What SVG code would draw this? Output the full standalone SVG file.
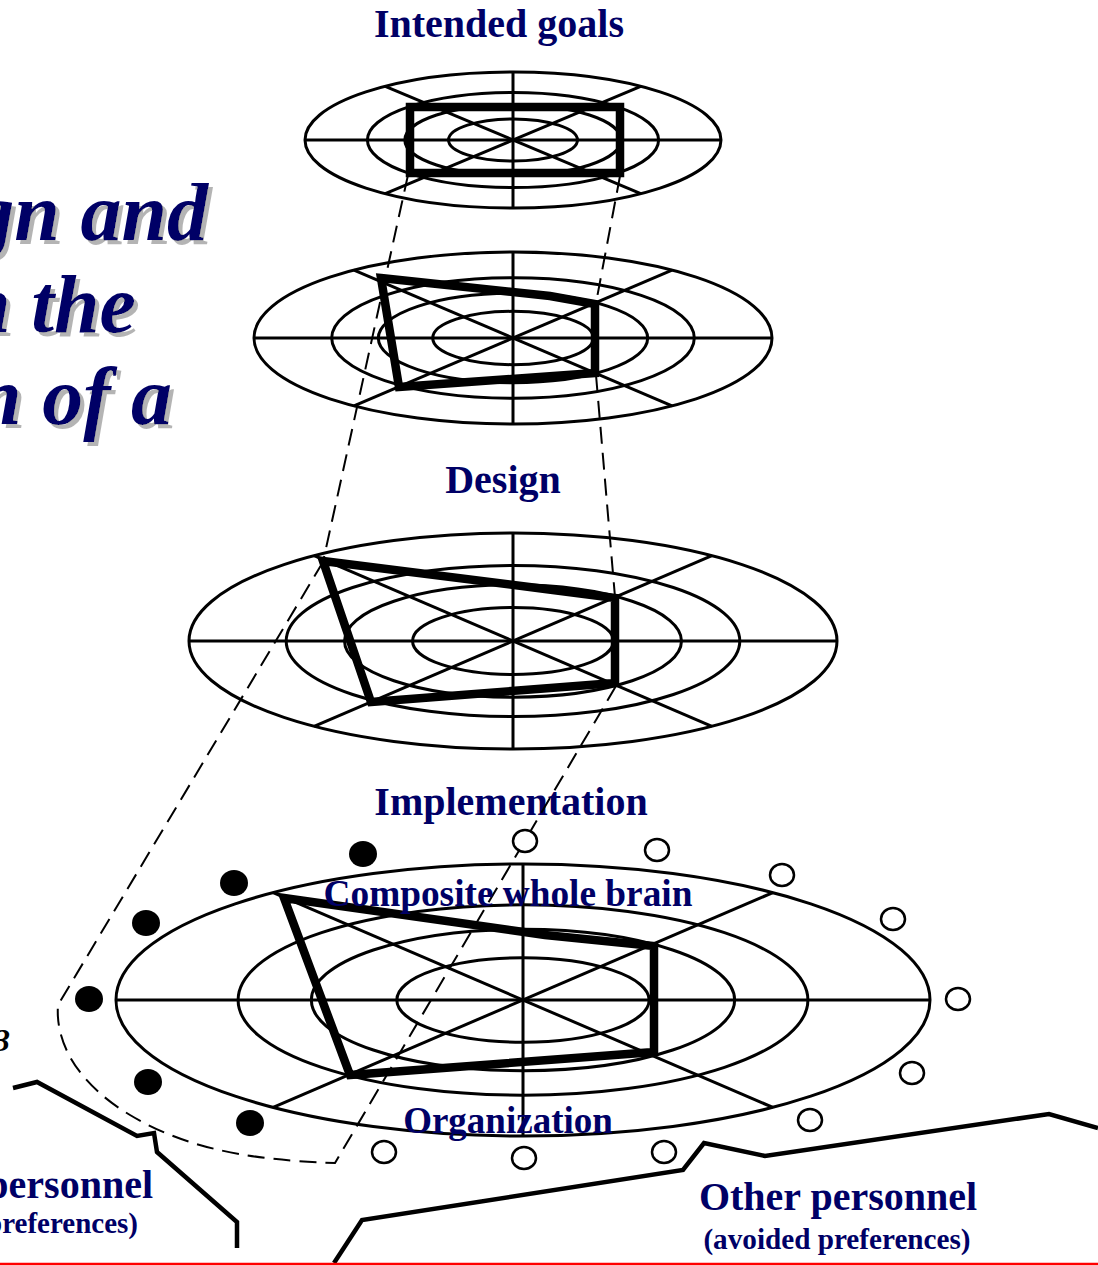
<svg xmlns="http://www.w3.org/2000/svg" xmlns:xlink="http://www.w3.org/1999/xlink" width="1098" height="1266" viewBox="0 0 1098 1266">
<style>
.ln{fill:none;stroke:#000;stroke-width:3;vector-effect:non-scaling-stroke}
.poly{fill:none;stroke:#000;stroke-width:8.5;stroke-linejoin:miter}
.dash{fill:none;stroke:#000;stroke-width:2;stroke-dasharray:17 9}
.edge{fill:none;stroke:#000;stroke-width:4.5;stroke-linejoin:miter}
.lbl{font-family:"Liberation Serif","Times New Roman",serif;font-weight:bold;fill:#000066;text-anchor:middle}
.title{font-family:"Liberation Serif","Times New Roman",serif;font-weight:bold;font-style:italic;font-size:82px;text-anchor:end;fill:#000066}
.pref{fill:#000}
.avoid{fill:#fff;stroke:#000;stroke-width:2.5}
</style>
<defs>
<filter id="shadow" x="-10%" y="-10%" width="130%" height="130%">
<feOffset in="SourceAlpha" dx="4" dy="4" result="off"/>
<feFlood flood-color="#b4b4b4"/>
<feComposite in2="off" operator="in" result="sh"/>
<feMerge><feMergeNode in="sh"/><feMergeNode in="SourceGraphic"/></feMerge>
</filter>
<g id="grid">
<ellipse class="ln" cx="0" cy="0" rx="1" ry="1"/>
<ellipse class="ln" cx="0" cy="0" rx="0.70" ry="0.70"/>
<ellipse class="ln" cx="0" cy="0" rx="0.52" ry="0.52"/>
<ellipse class="ln" cx="0" cy="0" rx="0.31" ry="0.31"/>
<line class="ln" x1="-1" y1="0" x2="1" y2="0"/>
<line class="ln" x1="0" y1="-1" x2="0" y2="1"/>
<line class="ln" x1="-0.614" y1="-0.79" x2="0.614" y2="0.79"/>
<line class="ln" x1="0.614" y1="-0.79" x2="-0.614" y2="0.79"/>
</g>
</defs>
<rect width="1098" height="1266" fill="#fff"/>

<g id="title" filter="url(#shadow)">
<text class="title" x="208" y="240">gn and</text>
<text class="title" x="136" y="332">n the</text>
<text class="title" x="172" y="424">n of a</text>
</g>
<text x="-6" y="1051" font-family="Liberation Serif, Times New Roman, serif" font-style="italic" font-weight="bold" font-size="32" fill="#000">3</text>

<g id="intended-goals">
<use xlink:href="#grid" transform="translate(513,140) scale(208,68)"/>
<polygon class="poly" points="410,107 620,107 620,173 410,173"/>
<text class="lbl" x="499" y="37" font-size="40">Intended goals</text>
</g>

<g id="design">
<use xlink:href="#grid" transform="translate(513,338) scale(259,86)"/>
<polygon class="poly" points="381,278 550,296 595,304 595,373 399,387"/>
<text class="lbl" x="503" y="493" font-size="40">Design</text>
</g>

<g id="implementation">
<use xlink:href="#grid" transform="translate(513,641) scale(324,108)"/>
<polygon class="poly" points="323,561 545,589 615,598 615,683 371,702"/>
<text class="lbl" x="511" y="815" font-size="40">Implementation</text>
</g>

<g id="organization">
<use xlink:href="#grid" transform="translate(523,1000) scale(407,136)"/>
<polygon class="poly" points="284,898 545,935 654,946 654,1052 350,1075"/>
<text class="lbl" x="508" y="1133" font-size="37">Organization</text>
</g>

<g id="connectors">
<line class="dash" x1="408" y1="175" x2="323" y2="562"/>
<line class="dash" x1="620" y1="176" x2="596" y2="303"/>
<line class="dash" x1="596" y1="375" x2="615" y2="597"/>
<path class="dash" d="M323,562 L58,1005 C55,1045 80,1085 130,1115 C180,1145 240,1160 335,1163 L616,686"/>
</g>

<g id="composite-label">
<text class="lbl" x="508" y="906" font-size="37.3">Composite whole brain</text>
</g>

<g id="preferred-dots">
<ellipse class="pref" cx="363" cy="854" rx="14" ry="13"/>
<ellipse class="pref" cx="234" cy="883" rx="14" ry="13"/>
<ellipse class="pref" cx="146" cy="923" rx="14" ry="13"/>
<ellipse class="pref" cx="89" cy="999" rx="14" ry="13"/>
<ellipse class="pref" cx="148" cy="1082" rx="14" ry="13"/>
<ellipse class="pref" cx="250" cy="1123" rx="14" ry="13"/>
</g>

<g id="avoided-dots">
<ellipse class="avoid" cx="525" cy="841" rx="12" ry="11"/>
<ellipse class="avoid" cx="657" cy="850" rx="12" ry="11"/>
<ellipse class="avoid" cx="782" cy="875" rx="12" ry="11"/>
<ellipse class="avoid" cx="893" cy="919" rx="12" ry="11"/>
<ellipse class="avoid" cx="958" cy="999" rx="12" ry="11"/>
<ellipse class="avoid" cx="912" cy="1073" rx="12" ry="11"/>
<ellipse class="avoid" cx="810" cy="1120" rx="12" ry="11"/>
<ellipse class="avoid" cx="664" cy="1152" rx="12" ry="11"/>
<ellipse class="avoid" cx="524" cy="1158" rx="12" ry="11"/>
<ellipse class="avoid" cx="384" cy="1152" rx="12" ry="11"/>
</g>

<g id="preferred-personnel">
<polyline class="edge" points="13,1088 37,1082 137,1136 154,1133 157,1152 237,1222 237,1248"/>
<text class="lbl" x="153" y="1198" font-size="40" style="text-anchor:end">personnel</text>
<text class="lbl" x="138" y="1233" font-size="29" style="text-anchor:end">preferences)</text>
</g>

<g id="other-personnel">
<polyline class="edge" points="334,1263 362,1220 683,1170 704,1143 765,1156 1049,1114 1098,1128"/>
<text class="lbl" x="838" y="1210" font-size="40">Other personnel</text>
<text class="lbl" x="837" y="1249" font-size="29.2">(avoided preferences)</text>
</g>

<line x1="0" y1="1264" x2="1098" y2="1264" stroke="#ff0000" stroke-width="2.5"/>
</svg>
